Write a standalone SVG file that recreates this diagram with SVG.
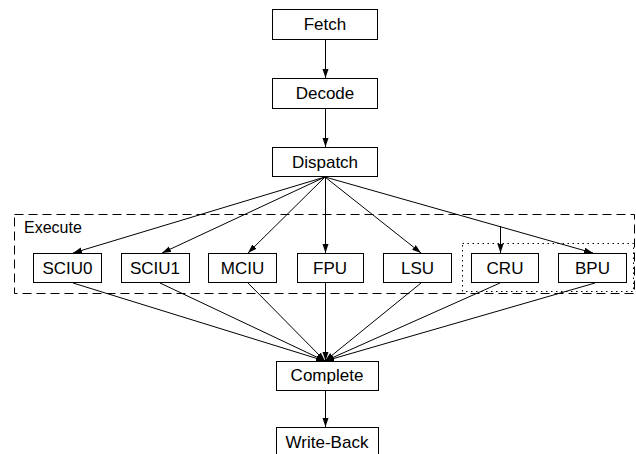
<svg xmlns="http://www.w3.org/2000/svg" width="636" height="454" viewBox="0 0 636 454">
<style>
.box{fill:#fff;stroke:#000;stroke-width:1}
.lbl{font-family:"Liberation Sans",Arial,sans-serif;font-size:17px;fill:#000;text-anchor:middle}
.edge{stroke:#000;stroke-width:1;fill:none}
</style>
<defs>
<marker id="arr" markerUnits="userSpaceOnUse" markerWidth="10" markerHeight="8" refX="9" refY="3" orient="auto">
<path d="M0,0 L9,3 L0,6 z" fill="#000"/>
</marker>
</defs>
<rect width="636" height="454" fill="#fff"/>
<g id="execute-group">
<rect x="14.5" y="214.5" width="620" height="79" fill="none" stroke="#000" stroke-width="1" stroke-dasharray="9,5"/>
<text x="24" y="233" font-family="Liberation Sans, Arial, sans-serif" font-size="16" fill="#000">Execute</text>
</g>
<g id="branch-group">
<rect x="462.5" y="243.5" width="171" height="48" fill="none" stroke="#000" stroke-width="1" stroke-dasharray="1.5,3.5"/>
</g>
<g id="connectors">
<line class="edge" x1="325.5" y1="40" x2="325.5" y2="78" marker-end="url(#arr)"/>
<line class="edge" x1="325.5" y1="109" x2="325.5" y2="147" marker-end="url(#arr)"/>
<line class="edge" x1="325" y1="177" x2="73" y2="253" marker-end="url(#arr)"/>
<line class="edge" x1="325" y1="177" x2="162" y2="253" marker-end="url(#arr)"/>
<line class="edge" x1="325" y1="177" x2="248" y2="253" marker-end="url(#arr)"/>
<line class="edge" x1="325.5" y1="177" x2="325.5" y2="253" marker-end="url(#arr)"/>
<line class="edge" x1="325" y1="177" x2="421" y2="253" marker-end="url(#arr)"/>
<line class="edge" x1="325" y1="177" x2="593" y2="253" marker-end="url(#arr)"/>
<line class="edge" x1="500.5" y1="226" x2="500.5" y2="253" marker-end="url(#arr)"/>
<line class="edge" x1="73" y1="283" x2="325" y2="361" marker-end="url(#arr)"/>
<line class="edge" x1="160" y1="283" x2="325" y2="361" marker-end="url(#arr)"/>
<line class="edge" x1="248" y1="283" x2="325" y2="361" marker-end="url(#arr)"/>
<line class="edge" x1="325.5" y1="283" x2="325.5" y2="361" marker-end="url(#arr)"/>
<line class="edge" x1="421" y1="283" x2="325" y2="361" marker-end="url(#arr)"/>
<line class="edge" x1="500" y1="283" x2="325" y2="361" marker-end="url(#arr)"/>
<line class="edge" x1="595" y1="283" x2="325" y2="361" marker-end="url(#arr)"/>
<line class="edge" x1="325.5" y1="391" x2="325.5" y2="427" marker-end="url(#arr)"/>
</g>
<g id="fetch"><rect class="box" x="272.5" y="9.5" width="105" height="30"/><text class="lbl" x="325" y="30">Fetch</text></g>
<g id="decode"><rect class="box" x="272.5" y="78.5" width="105" height="30"/><text class="lbl" x="325" y="99">Decode</text></g>
<g id="dispatch"><rect class="box" x="272.5" y="147.5" width="105" height="29"/><text class="lbl" x="325" y="167.5">Dispatch</text></g>
<g id="sciu0"><rect class="box" x="33.5" y="253.5" width="68" height="29"/><text class="lbl" x="67.5" y="273.5">SCIU0</text></g>
<g id="sciu1"><rect class="box" x="121.5" y="253.5" width="68" height="29"/><text class="lbl" x="155" y="273.5">SCIU1</text></g>
<g id="mciu"><rect class="box" x="208.5" y="253.5" width="68" height="29"/><text class="lbl" x="242.5" y="273.5">MCIU</text></g>
<g id="fpu"><rect class="box" x="297.5" y="253.5" width="66" height="29"/><text class="lbl" x="330" y="273.5">FPU</text></g>
<g id="lsu"><rect class="box" x="383.5" y="253.5" width="68" height="29"/><text class="lbl" x="417.5" y="273.5">LSU</text></g>
<g id="cru"><rect class="box" x="471.5" y="253.5" width="67" height="29"/><text class="lbl" x="505" y="273.5">CRU</text></g>
<g id="bpu"><rect class="box" x="558.5" y="253.5" width="68" height="29"/><text class="lbl" x="592.5" y="273.5">BPU</text></g>
<g id="complete"><rect class="box" x="276.5" y="361.5" width="102" height="29"/><text class="lbl" x="327" y="381">Complete</text></g>
<g id="write-back"><rect class="box" x="276.5" y="427.5" width="102" height="30"/><text class="lbl" x="327" y="448">Write-Back</text></g>
</svg>
